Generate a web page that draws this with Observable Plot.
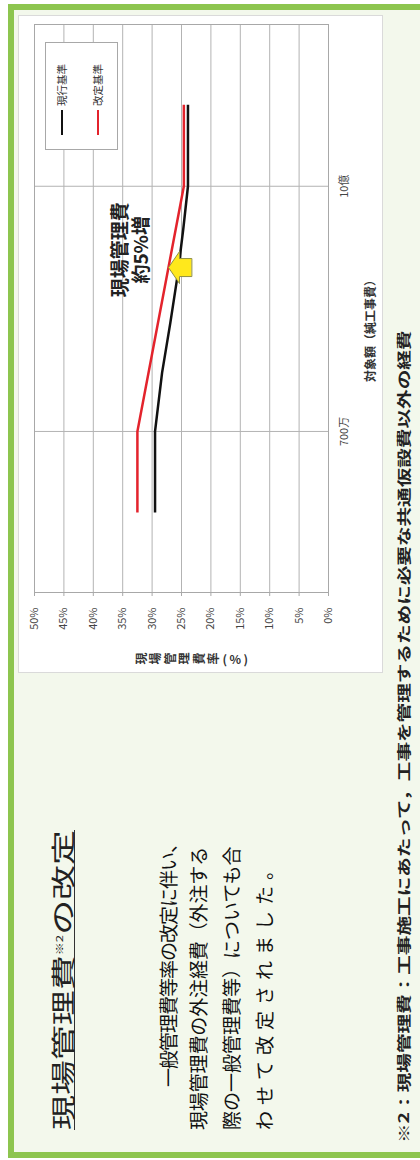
<!DOCTYPE html>
<html lang="ja"><head><meta charset="utf-8">
<script src="https://cdn.jsdelivr.net/npm/d3@7"></script>
<script src="https://cdn.jsdelivr.net/npm/@observablehq/plot@0.6"></script>
<style>
html,body{margin:0;padding:0;width:420px;height:1160px;overflow:hidden;background:#fff}
#page{position:absolute;left:0;top:0;width:1160px;height:420px;transform-origin:0 0;transform:translate(0px,1160px) rotate(-90deg);font-family:"Noto Sans CJK JP","Noto Sans",sans-serif;color:#1a1a1a}
#panel{position:absolute;left:2px;top:8px;width:1154px;height:412px;box-sizing:border-box;background:#f3f8ec;border:6px solid #8dc54f;border-bottom:none}
#chartbox{position:absolute;left:487px;top:18px;width:658px;height:365px;background:#fff;border:1px solid #dadada;box-sizing:border-box}
#chart{position:absolute;left:487px;top:18px}
.t{position:absolute;white-space:nowrap;transform-origin:0 50%}
#legend{position:absolute;left:1010px;top:45px;width:108px;height:73px;border:1px solid #a8a8a8;background:#fff;box-sizing:border-box}
</style></head>
<body><div id="page"><div id="panel"></div><div id="chartbox"></div><div id="chart"></div></div>
<script>
// ---- data ----
const yTicks = [0, 5, 10, 15, 20, 25, 30, 35, 40, 45, 50];
const xTickValues = [7e6, 1e9];
const xTickLabels = ["700万", "10億"];
const seriesNames = ["現行基準", "改定基準"];
const seriesColors = ["#111111", "#e3232c"];
const currentAmounts = [1.36e6, 7e6, 2.3e7, 6.3e7, 1.6e8, 4.2e8, 1e9, 5.2e9];
const currentRates   = [29.5, 29.5, 28.3, 26.9, 25.7, 24.7, 23.9, 23.9];
const revisedAmounts = [1.36e6, 7e6, 1e9, 5.2e9];
const revisedRates   = [32.5, 32.5, 24.6, 24.6];
const noteLines = ["現場管理費", "約5%増"];
const noteAt = [{amount: 2.76e8, rate: 33.6}];
const arrowAt = [{amount: 1.93e8, rate: 23.3}];
const yTitle = "現場管理費率(%)";
const xTitle = "対象額（純工事費）";
const titleParts = ["現場管理費", "※2", "の改定"];
const bodyLines = ["一般管理費等率の改定に伴い、", "現場管理費の外注経費（外注する", "際の一般管理費等）についても合", "わせて改定されました。"];
const footnote = "※2：現場管理費：工事施工にあたって，工事を管理するために必要な共通仮設費以外の経費";

const current = currentAmounts.map((a, i) => ({amount: a, rate: currentRates[i]}));
const revised = revisedAmounts.map((a, i) => ({amount: a, rate: revisedRates[i]}));
const xTicks = xTickValues.map((v, i) => ({amount: v, label: xTickLabels[i]}));

const blockArrow = {
  draw(ctx, l) {
    const bw = 9, hw = 16, hl = 11;
    ctx.moveTo(-bw, 0);
    ctx.lineTo(-bw, -(l - hl));
    ctx.lineTo(-hw, -(l - hl));
    ctx.lineTo(0, -l);
    ctx.lineTo(hw, -(l - hl));
    ctx.lineTo(bw, -(l - hl));
    ctx.lineTo(bw, 0);
    ctx.closePath();
  }
};

const chart = Plot.plot({
  width: 658, height: 365,
  marginLeft: 80, marginRight: 10, marginTop: 16, marginBottom: 55,
  style: {background: "transparent", fontFamily: '"Noto Sans CJK JP", sans-serif', overflow: "visible"},
  x: {type: "log", domain: [2.69e5, 2.64e10], axis: null},
  y: {domain: [0, 50]},
  marks: [
    Plot.gridY(yTicks, {stroke: "#b3b3b3", strokeOpacity: 1}),
    Plot.gridX(xTickValues, {stroke: "#b3b3b3", strokeOpacity: 1}),
    Plot.frame({stroke: "#a8a8a8"}),
    Plot.axisY(yTicks, {tickFormat: d => d + "%", tickSize: 3, tickPadding: 12, fontSize: 11, fill: "#444", stroke: "#a8a8a8", label: null}),
    Plot.text(xTicks, {x: "amount", text: "label", frameAnchor: "bottom", dy: 19, fontSize: 11, fill: "#444"}),
    Plot.line(current, {x: "amount", y: "rate", stroke: seriesColors[0], strokeWidth: 2.5, strokeLinecap: "butt"}),
    Plot.line(revised, {x: "amount", y: "rate", stroke: seriesColors[1], strokeWidth: 2.5, strokeLinecap: "butt"}),
    Plot.vector(arrowAt, {x: "amount", y: "rate", length: 23, rotate: 0, anchor: "start", shape: blockArrow, fill: "#ffe81c", stroke: "#8f8f45", strokeWidth: 1}),
    Plot.text(noteAt, {x: "amount", y: "rate", text: () => noteLines.join("\n"), fontSize: 19, fontWeight: "bold", lineHeight: 1.1, fill: "#222"})
  ]
});
document.getElementById("chart").append(chart);

const page = document.getElementById("page");
function place(html, {x, cy, size, weight = "normal", width, mode = "space", color = "#1a1a1a"}) {
  const el = document.createElement("div");
  el.className = "t";
  el.innerHTML = html;
  const lh = Math.round(size * 1.25);
  el.style.cssText += `left:${x}px;font-size:${size}px;line-height:${lh}px;top:${cy - lh / 2}px;font-weight:${weight};color:${color};`;
  page.append(el);
  if (width) {
    const w = el.offsetWidth;
    if (mode === "scale") el.style.transform = `scaleX(${width / w})`;
    else el.style.letterSpacing = ((width - w) / el.textContent.length) + "px";
  }
  return el;
}

// title
const title = place(`${titleParts[0]}<span style="font-size:9px;vertical-align:9px">${titleParts[1]}</span>${titleParts[2]}`,
  {x: 30, cy: 61, size: 24, width: 300, mode: "scale", color: "#222"});
title.style.borderBottom = "1.5px solid #333";
title.style.lineHeight = "24px";
title.style.top = "48px";

// body
const bodyPos = [{x: 73, cy: 168, w: 252}, {x: 30, cy: 198, w: 283}, {x: 30, cy: 231, w: 283}, {x: 30, cy: 264, w: 275}];
bodyLines.forEach((s, i) => place(s, {x: bodyPos[i].x, cy: bodyPos[i].cy, size: 19, width: bodyPos[i].w, color: "#111"}));

// footnote
place(footnote, {x: 17, cy: 403, size: 14, weight: "bold", width: 813, mode: "scale", color: "#222"});

// axis titles
const yt = document.createElement("div");
yt.textContent = yTitle;
yt.style.cssText = "position:absolute;left:501px;top:193px;transform:translate(-50%,-50%);writing-mode:vertical-rl;text-orientation:mixed;font-size:12px;font-weight:bold;letter-spacing:2.5px;color:#333;line-height:14px";
page.append(yt);
const xt = document.createElement("div");
xt.textContent = xTitle;
xt.style.cssText = "position:absolute;left:832px;top:370px;transform:translate(-50%,-50%);font-size:12px;font-weight:bold;color:#333;white-space:nowrap;line-height:14px";
page.append(xt);

// legend
const lg = document.createElement("div");
lg.id = "legend";
seriesNames.forEach((name, i) => {
  const row = document.createElement("div");
  row.style.cssText = `position:absolute;left:14px;top:${16 + i * 36 - 7}px;height:14px;display:flex;align-items:center;white-space:nowrap`;
  row.innerHTML = `<span style="display:inline-block;width:25px;height:2.5px;background:${seriesColors[i]};margin-right:4px"></span><span style="font-size:10.5px;color:#333;line-height:14px">${name}</span>`;
  lg.append(row);
});
page.append(lg);
</script></body></html>
